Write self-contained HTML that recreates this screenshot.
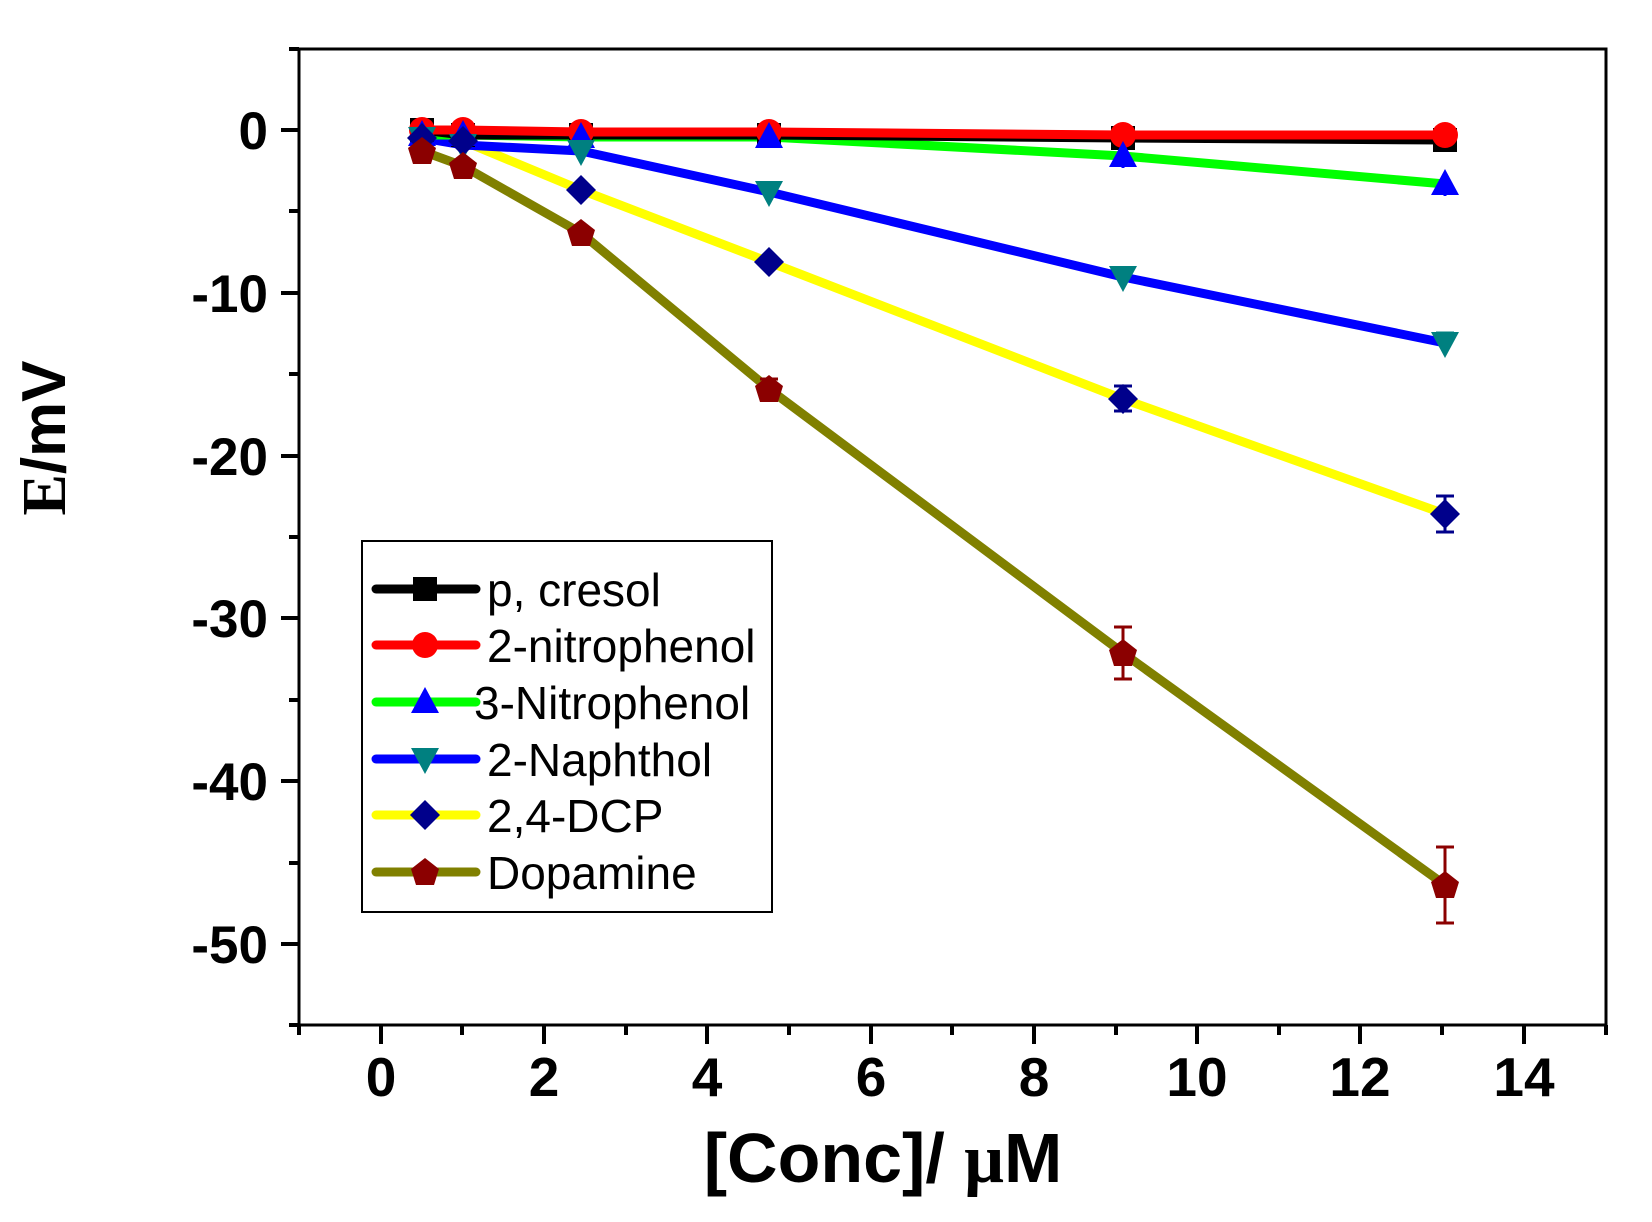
<!DOCTYPE html>
<html><head><meta charset="utf-8"><style>
html,body{margin:0;padding:0;background:#fff;}
svg{display:block;}
</style></head><body>
<svg width="1652" height="1222" viewBox="0 0 1652 1222" xmlns="http://www.w3.org/2000/svg">
<rect width="1652" height="1222" fill="#fff"/>
<defs>
<g id="sq"><rect x="-12" y="-12" width="24" height="24" fill="#000"/></g>
<g id="ci"><circle r="13" fill="#f00"/></g>
<g id="tu"><polygon points="0,-15 14,11 -14,11" fill="#00f"/></g>
<g id="td"><polygon points="0,15 14,-11 -14,-11" fill="#008080"/></g>
<g id="di"><polygon points="0,-15 15,0 0,15 -15,0" fill="#00008b"/></g>
<g id="pe"><polygon points="0,-14 14,-3 9,13 -9,13 -14,-3" fill="#8b0000"/></g>
</defs>
<rect x="299" y="49" width="1307" height="976" fill="none" stroke="#000" stroke-width="3"/>
<g stroke="#000" stroke-width="4">
<line x1="281" y1="130" x2="299" y2="130"/>
<line x1="281" y1="293" x2="299" y2="293"/>
<line x1="281" y1="456" x2="299" y2="456"/>
<line x1="281" y1="618" x2="299" y2="618"/>
<line x1="281" y1="781" x2="299" y2="781"/>
<line x1="281" y1="944" x2="299" y2="944"/>
<line x1="289" y1="49" x2="299" y2="49"/>
<line x1="289" y1="211" x2="299" y2="211"/>
<line x1="289" y1="374" x2="299" y2="374"/>
<line x1="289" y1="537" x2="299" y2="537"/>
<line x1="289" y1="700" x2="299" y2="700"/>
<line x1="289" y1="863" x2="299" y2="863"/>
<line x1="289" y1="1025" x2="299" y2="1025"/>
<line x1="381" y1="1025" x2="381" y2="1044"/>
<line x1="544" y1="1025" x2="544" y2="1044"/>
<line x1="707" y1="1025" x2="707" y2="1044"/>
<line x1="871" y1="1025" x2="871" y2="1044"/>
<line x1="1034" y1="1025" x2="1034" y2="1044"/>
<line x1="1197" y1="1025" x2="1197" y2="1044"/>
<line x1="1360" y1="1025" x2="1360" y2="1044"/>
<line x1="1524" y1="1025" x2="1524" y2="1044"/>
<line x1="299" y1="1025" x2="299" y2="1035"/>
<line x1="462" y1="1025" x2="462" y2="1035"/>
<line x1="626" y1="1025" x2="626" y2="1035"/>
<line x1="789" y1="1025" x2="789" y2="1035"/>
<line x1="952" y1="1025" x2="952" y2="1035"/>
<line x1="1116" y1="1025" x2="1116" y2="1035"/>
<line x1="1279" y1="1025" x2="1279" y2="1035"/>
<line x1="1442" y1="1025" x2="1442" y2="1035"/>
<line x1="1606" y1="1025" x2="1606" y2="1035"/>
</g>
<g font-family="Liberation Sans, sans-serif" font-weight="bold" font-size="53" text-anchor="end" fill="#000">
<text x="268" y="149">0</text>
<text x="268" y="312">-10</text>
<text x="268" y="475">-20</text>
<text x="268" y="637">-30</text>
<text x="268" y="800">-40</text>
<text x="268" y="963">-50</text>
</g>
<g font-family="Liberation Sans, sans-serif" font-weight="bold" font-size="55" text-anchor="middle" fill="#000">
<text x="381" y="1096">0</text>
<text x="544" y="1096">2</text>
<text x="707" y="1096">4</text>
<text x="871" y="1096">6</text>
<text x="1034" y="1096">8</text>
<text x="1197" y="1096">10</text>
<text x="1360" y="1096">12</text>
<text x="1524" y="1096">14</text>
</g>
<text x="883" y="1182" font-family="Liberation Sans, sans-serif" font-weight="bold" font-size="70" text-anchor="middle">[Conc]/ <tspan font-family="Liberation Serif, serif">μ</tspan>M</text>
<text transform="translate(65,438) rotate(-90)" font-family="Liberation Sans, sans-serif" font-weight="bold" font-size="62" text-anchor="middle"><tspan font-family="Liberation Serif, serif">E</tspan>/mV</text>

<g fill="none" stroke-width="9" stroke-linejoin="round">
<polyline stroke="#808000" points="422,151 463,166 581,233 769,389 1123,653 1445,885"/>
<polyline stroke="#ffff00" points="422,138 463,141 581,190 769,262 1123,399 1445,514"/>
<polyline stroke="#0000ff" points="422,138 463,145 581,151 769,192 1123,277 1445,343"/>
<polyline stroke="#00ff00" points="422,135 463,135 581,137 769,137 1123,156 1445,184"/>
<polyline stroke="#000" points="422,130 463,135 581,135 769,135 1123,138 1445,140"/>
<polyline stroke="#ff0000" points="422,130 463,130 581,132 769,132 1123,135 1445,135"/>
</g>
<g stroke-width="3" fill="none">
<path stroke="#8b0000" d="M769,379V399M760,379H778M760,399H778 M1123,627V679M1114,627H1132M1114,679H1132 M1445,847V923M1436,847H1454M1436,923H1454 M463,158V174"/>
<path stroke="#00008b" d="M1123,386V411M1114,386H1132M1114,411H1132 M1445,496V532M1436,496H1454M1436,532H1454"/>
<path stroke="#008080" d="M1445,333V353M1436,333H1454 M1123,268V285"/>
<path stroke="#0000ff" d="M1445,174V196 M1123,146V168"/>
</g>
<g>
<use href="#sq" x="422" y="130"/><use href="#sq" x="463" y="135"/><use href="#sq" x="581" y="135"/><use href="#sq" x="769" y="135"/><use href="#sq" x="1123" y="138"/><use href="#sq" x="1445" y="140"/>
<use href="#ci" x="422" y="130"/><use href="#ci" x="463" y="130"/><use href="#ci" x="581" y="132"/><use href="#ci" x="769" y="132"/><use href="#ci" x="1123" y="135"/><use href="#ci" x="1445" y="135"/>
<use href="#tu" x="422" y="135"/><use href="#tu" x="463" y="135"/><use href="#tu" x="581" y="137"/><use href="#tu" x="769" y="137"/><use href="#tu" x="1123" y="156"/><use href="#tu" x="1445" y="184"/>
<use href="#td" x="422" y="138"/><use href="#td" x="463" y="145"/><use href="#td" x="581" y="151"/><use href="#td" x="769" y="192"/><use href="#td" x="1123" y="277"/><use href="#td" x="1445" y="343"/>
<use href="#di" x="422" y="138"/><use href="#di" x="463" y="141"/><use href="#di" x="581" y="190"/><use href="#di" x="769" y="262"/><use href="#di" x="1123" y="399"/><use href="#di" x="1445" y="514"/>
<use href="#pe" x="422" y="151"/><use href="#pe" x="463" y="166"/><use href="#pe" x="581" y="233"/><use href="#pe" x="769" y="389"/><use href="#pe" x="1123" y="653"/><use href="#pe" x="1445" y="885"/>
</g>
<rect x="362" y="541" width="410" height="371" fill="#fff" stroke="#000" stroke-width="2"/>
<g stroke-width="9" stroke-linecap="round">
<line x1="376" y1="589" x2="476" y2="589" stroke="#000"/>
<line x1="376" y1="645" x2="476" y2="645" stroke="#f00"/>
<line x1="376" y1="702" x2="476" y2="702" stroke="#0f0"/>
<line x1="376" y1="759" x2="476" y2="759" stroke="#00f"/>
<line x1="376" y1="815" x2="476" y2="815" stroke="#ff0"/>
<line x1="376" y1="872" x2="476" y2="872" stroke="#808000"/>
</g>
<use href="#sq" x="425" y="589"/>
<use href="#ci" x="425" y="645"/>
<use href="#tu" x="425" y="702"/>
<use href="#td" x="425" y="759"/>
<use href="#di" x="425" y="815"/>
<use href="#pe" x="425" y="872"/>
<g font-family="Liberation Sans, sans-serif" font-size="46" fill="#000">
<text x="487" y="606">p, cresol</text>
<text x="487" y="662">2-nitrophenol</text>
<text x="474" y="719">3-Nitrophenol</text>
<text x="487" y="776">2-Naphthol</text>
<text x="487" y="832">2,4-DCP</text>
<text x="487" y="889">Dopamine</text>
</g>
</svg>
</body></html>
